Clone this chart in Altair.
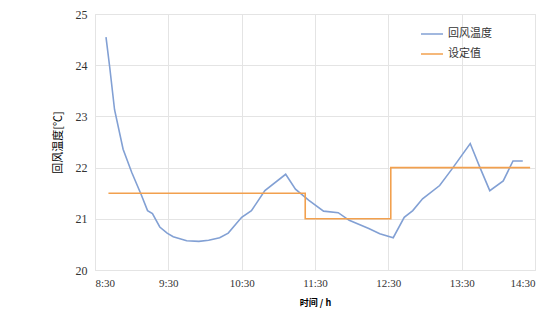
import altair as alt
import pandas as pd

# 回风温度 (return air temperature) samples
temp_times = ["8:39", "8:42", "8:46", "8:53", "9:00", "9:08", "9:13", "9:17", "9:23", "9:29", "9:34",
              "9:45", "9:55", "10:03", "10:12", "10:19", "10:30", "10:38", "10:49", "11:06", "11:14",
              "11:25", "11:37", "11:49", "11:58", "12:14", "12:23", "12:34", "12:43", "12:50", "12:58",
              "13:12", "13:22", "13:37", "13:45", "13:53", "14:04", "14:12", "14:20"]
temp_values = [24.55, 23.97, 23.13, 22.36, 21.91, 21.46, 21.16, 21.1, 20.84, 20.72, 20.65,
               20.57, 20.56, 20.58, 20.63, 20.72, 21.03, 21.16, 21.55, 21.87, 21.58,
               21.36, 21.15, 21.12, 20.97, 20.81, 20.71, 20.63, 21.03, 21.16, 21.39,
               21.65, 21.97, 22.47, 22.0, 21.55, 21.74, 22.13, 22.13]

# 设定值 (setpoint), step-after
set_times = ["8:41", "11:22", "12:32", "14:26"]
set_values = [21.5, 21.0, 22.0, 22.0]

x_ticks = [8.5, 9.5, 10.5, 11.5, 12.5, 13.5, 14.5]
y_ticks = [20, 21, 22, 23, 24, 25]
series_names = ["回风温度", "设定值"]
series_colors = ["#82a0d4", "#f2a04e"]


def to_h(s):
    h, m = s.split(":")
    return int(h) + int(m) / 60.0


temp_df = pd.DataFrame({"t": [to_h(s) for s in temp_times], "v": temp_values, "s": series_names[0]})
set_df = pd.DataFrame({"t": [to_h(s) for s in set_times], "v": set_values, "s": series_names[1]})

font = "Liberation Serif"
cjk = "Noto Sans CJK SC"

x = alt.X("t:Q", scale=alt.Scale(domain=[8.5, 14.5], nice=False),
          axis=alt.Axis(values=x_ticks, labelExpr="floor(datum.value) + ':30'",
                        title="时间 / h", titleFont=cjk, titleFontSize=9, titleFontWeight="bold",
                        titlePadding=10, labelFont=font, labelFontSize=11, labelColor="#333",
                        labelPadding=7, ticks=False, domain=False, grid=True, gridColor="#e4e4e4"))
y = alt.Y("v:Q", scale=alt.Scale(domain=[20, 25], nice=False),
          axis=alt.Axis(values=y_ticks, title="回风温度[℃]", titleFont=cjk, titleFontSize=11,
                        titleFontWeight="normal", titlePadding=12, labelFont=font, labelFontSize=12,
                        labelColor="#333", labelPadding=8, ticks=False, domain=False,
                        grid=True, gridColor="#e4e4e4"))
color = alt.Color("s:N", scale=alt.Scale(domain=series_names, range=series_colors),
                  legend=alt.Legend(title=None, orient="none", legendX=325, legendY=8,
                                    symbolType="stroke", symbolSize=484, symbolStrokeWidth=1.5,
                                    labelFont=cjk, labelFontSize=11, labelColor="#333",
                                    rowPadding=3, labelOffset=4))

temp_line = alt.Chart(temp_df).mark_line(strokeWidth=1.6).encode(x=x, y=y, color=color)
set_line = alt.Chart(set_df).mark_line(strokeWidth=1.6, interpolate="step-after").encode(x=x, y=y, color=color)

chart = alt.layer(temp_line, set_line).properties(
    width=440, height=256,
    autosize=alt.AutoSizeParams(type="none"),
    padding={"left": 87, "top": 6, "right": 17, "bottom": 40},
).configure_view(stroke="#b0b0b0", strokeWidth=1).configure(background="white")

chart.save("out.html", embed_options={"renderer": "svg", "actions": False})
